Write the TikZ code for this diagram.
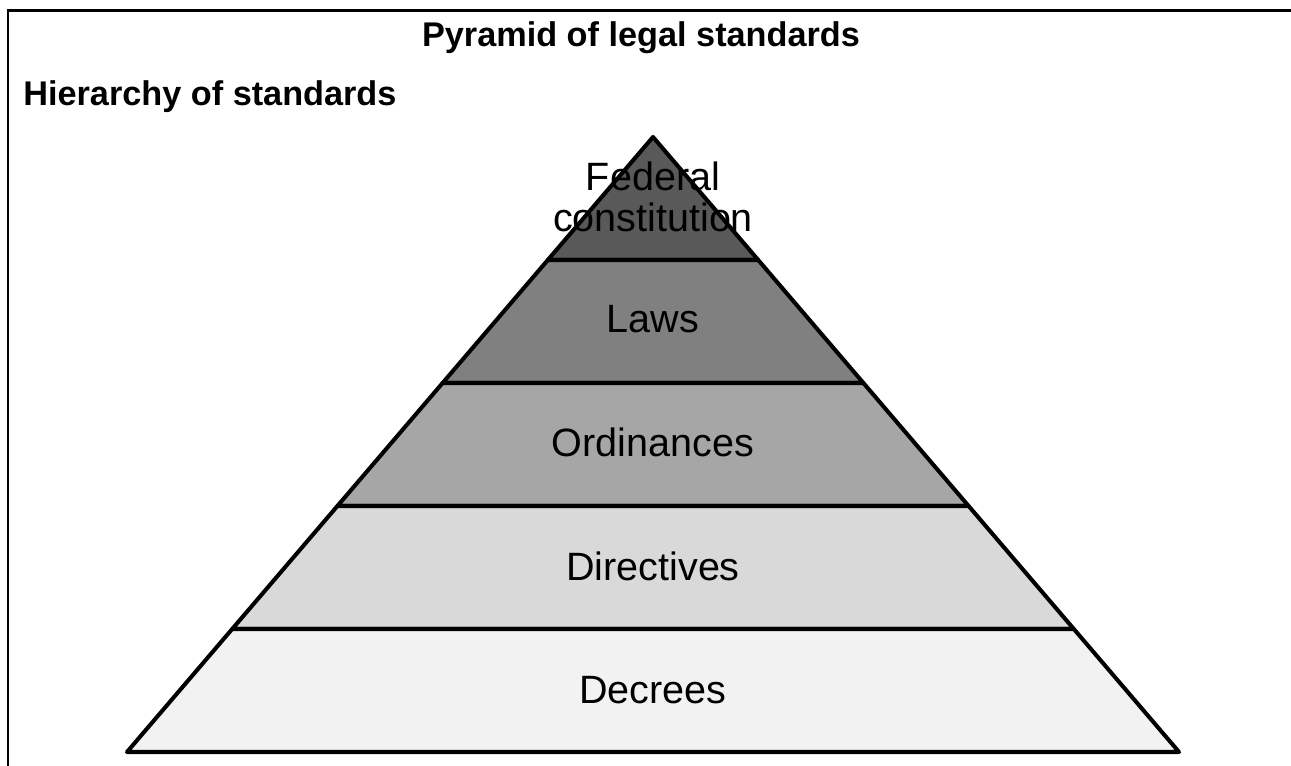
\documentclass[tikz,border=0pt]{standalone}
\usepackage{fontspec}
\setmainfont{Liberation Sans}
\tikzset{
  band/.style={draw=black, line width=2.3pt, line join=round},
  tier/.style={font=\fontsize{22.5}{23}\selectfont, align=center, inner sep=0pt},
  heading/.style={font=\bfseries\fontsize{19.5}{22}\selectfont, inner sep=0pt}
}
\begin{document}
\begin{tikzpicture}[x=0.02cm,y=-0.02cm]
  \useasboundingbox (0,0) rectangle (1291,766);
  % frame
  \draw[line width=1.7pt] (8,766) -- (8,11) -- (1291,11);
  \node[heading, anchor=base] (title) at (641,47) {Pyramid of legal standards};
  \node[heading, anchor=base west] (subtitle) at (23,106) {Hierarchy of standards};
  % pyramid, one band per level
  \foreach \k/\tone in {1/65,2/50,3/35,4/15,5/5}{
    \pgfmathsetmacro\ytop{137+123*(\k-1)}
    \pgfmathsetmacro\ybot{137+123*\k}
    \pgfmathsetmacro\wtop{105.2*(\k-1)}
    \pgfmathsetmacro\wbot{105.2*\k}
    \filldraw[band, fill=black!\tone] (653-\wtop,\ytop) -- (653+\wtop,\ytop)
      -- (653+\wbot,\ybot) -- (653-\wbot,\ybot) -- cycle;
  }
  \node[tier] (fed) at (653,197) {Federal\\constitution};
  \node[tier, anchor=base] (laws) at (653,333) {Laws};
  \node[tier, anchor=base] (ord) at (653,457) {Ordinances};
  \node[tier, anchor=base] (dir) at (653,580) {Directives};
  \node[tier, anchor=base] (dec) at (653,703) {Decrees};
\end{tikzpicture}
\end{document}
